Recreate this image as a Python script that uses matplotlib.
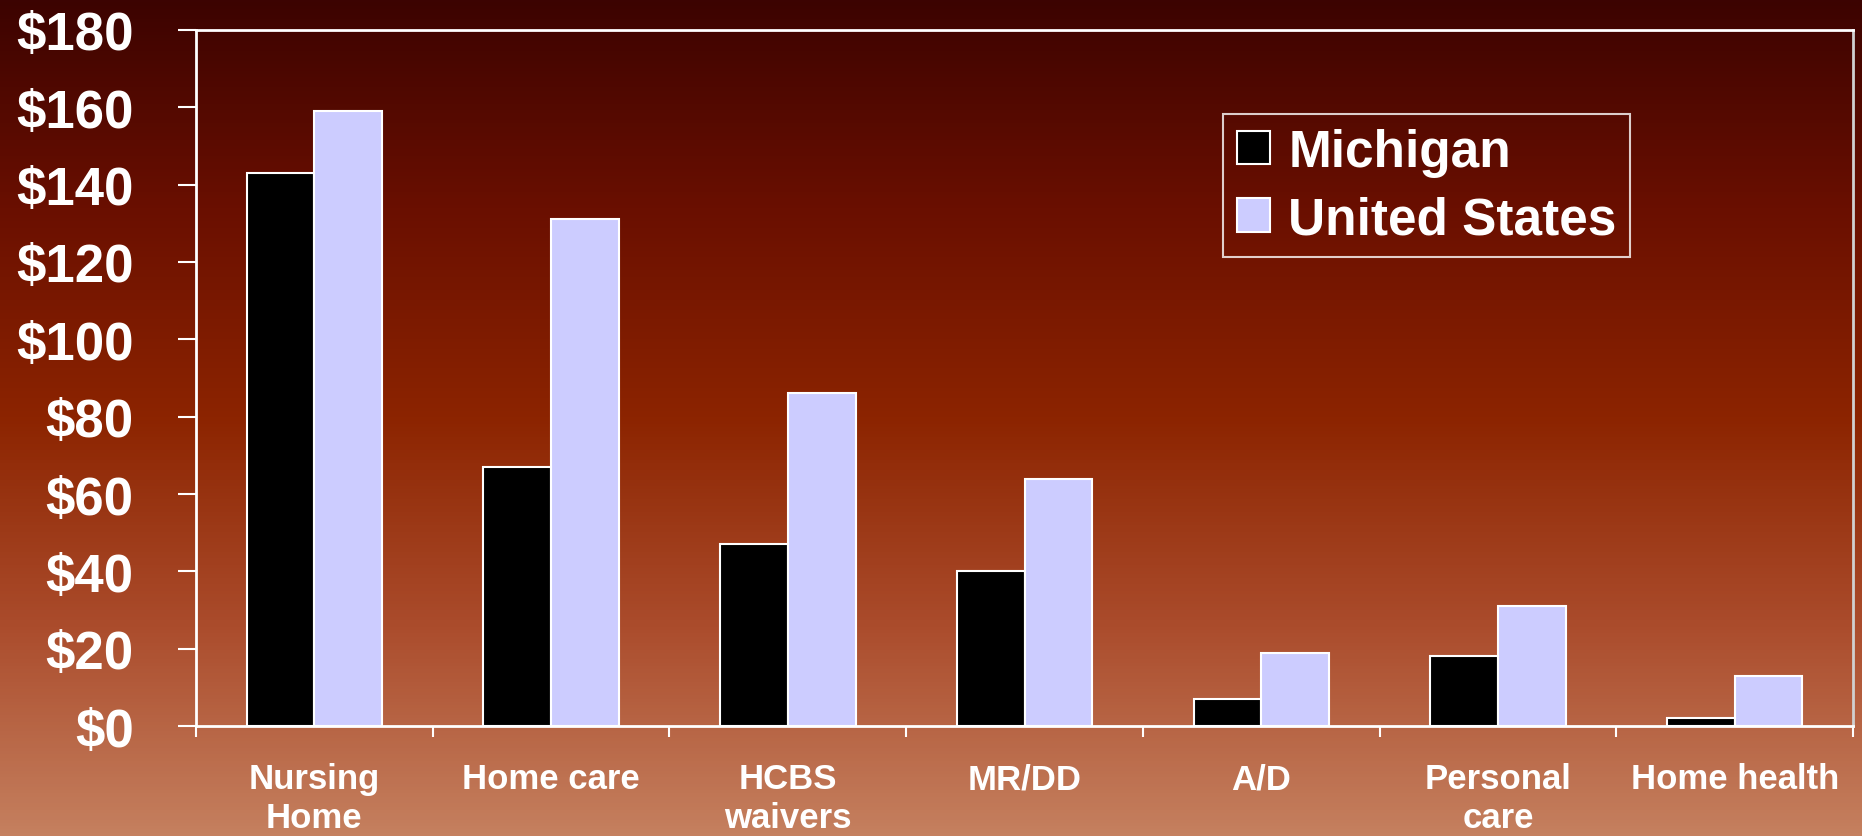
import matplotlib
matplotlib.use('Agg')
import matplotlib.pyplot as plt
import numpy as np
from matplotlib.colors import LinearSegmentedColormap
from matplotlib.ticker import FixedLocator

# Spending per capita, Michigan vs United States
categories = ['Nursing\nHome', 'Home care', 'HCBS\nwaivers', 'MR/DD', 'A/D', 'Personal\ncare', 'Home health']
michigan = [143, 67, 47, 40, 7, 18, 2]
united_states = [159, 131, 86, 64, 19, 31, 13]
y_ticks = [0, 20, 40, 60, 80, 100, 120, 140, 160, 180]
y_labels = ['$' + str(v) for v in y_ticks]

plt.rcParams['font.family'] = ['Liberation Sans', 'DejaVu Sans']

fig = plt.figure(figsize=(18.62, 8.37), dpi=100)

# Background gradient, dark maroon at top to light terracotta at bottom
bg = fig.add_axes([0, 0, 1, 1])
bg.set_axis_off()
grad_cmap = LinearSegmentedColormap.from_list('bg', [
    (0.0, '#3c0301'),
    (0.25, '#6a0f00'),
    (0.5, '#8c2400'),
    (0.75, '#ab4c2c'),
    (1.0, '#c5805f'),
])
bg.imshow(np.linspace(0, 1, 256).reshape(-1, 1), aspect='auto', cmap=grad_cmap,
          extent=[0, 1, 0, 1], origin='upper')
bg.set_xlim(0, 1)
bg.set_ylim(0, 1)

ax = fig.add_axes([0.1053, 0.1314, 0.8899, 0.8316])
ax.patch.set_alpha(0)

x = np.arange(len(categories)) + 0.5
w = 0.286
ax.bar(x - w / 2, michigan, width=w, color='black', edgecolor='white', linewidth=1.5, label='Michigan')
ax.bar(x + w / 2, united_states, width=w, color='#ccccff', edgecolor='white', linewidth=1.5, label='United States')

ax.set_xlim(0, len(categories))
ax.set_ylim(0, 180)

for side in ['left', 'bottom', 'top']:
    ax.spines[side].set_color('white')
    ax.spines[side].set_linewidth(2)
ax.spines['right'].set_color('#d0d0d0')
ax.spines['right'].set_linewidth(2)

ax.set_yticks(y_ticks)
ax.set_yticklabels(y_labels, fontsize=38, fontweight='bold', color='white')
ax.tick_params(axis='y', direction='out', length=13, width=1.5, color='white', pad=32)

ax.set_xticks(x)
ax.set_xticklabels(categories, fontsize=25, fontweight='bold', color='white', linespacing=1.22)
ax.tick_params(axis='x', which='major', length=0, pad=26)
ax.xaxis.set_minor_locator(FixedLocator(np.arange(len(categories) + 1)))
ax.tick_params(axis='x', which='minor', direction='out', length=8, width=1.5, color='white')

leg = ax.legend(loc='upper left', bbox_to_anchor=(0.620, 0.879), borderaxespad=0,
                frameon=True, fancybox=False, edgecolor='white', facecolor='none',
                prop={'size': 37, 'weight': 'bold'}, handlelength=0.64, handleheight=0.64,
                handletextpad=0.36, labelspacing=0.36, borderpad=0.26)
leg.get_frame().set_linewidth(1.5)
for t in leg.get_texts():
    t.set_color('white')

fig.savefig('out.png', dpi=100)
